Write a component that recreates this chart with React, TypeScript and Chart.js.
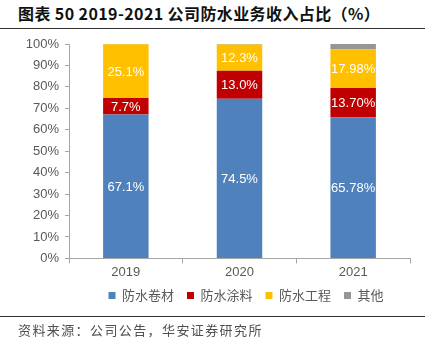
import React, { useEffect, useRef } from "react";
import { Chart, registerables } from "chart.js";

Chart.register(...registerables);

const categories = ["2019", "2020", "2021"];
const seriesNames = ["防水卷材", "防水涂料", "防水工程", "其他"];
const membrane = [67.1, 74.5, 65.78];
const coating = [7.7, 13.0, 13.7];
const engineering = [25.1, 12.3, 17.98];
const others = [0.1, 0.2, 2.54];
const membraneLabels = ["67.1%", "74.5%", "65.78%"];
const coatingLabels = ["7.7%", "13.0%", "13.70%"];
const engineeringLabels = ["25.1%", "12.3%", "17.98%"];
const yTicks = ["0%", "10%", "20%", "30%", "40%", "50%", "60%", "70%", "80%", "90%", "100%"];
const colors = ["#4F81BD", "#C00000", "#FFC000", "#969696"];

const labelSets = [membraneLabels, coatingLabels, engineeringLabels, null];

const segLabels = {
  id: "segLabels",
  afterDatasetsDraw(chart: any) {
    const ctx = chart.ctx;
    ctx.save();
    ctx.fillStyle = "#FFFFFF";
    ctx.font = "13px 'Liberation Sans', Arial, sans-serif";
    ctx.textAlign = "center";
    ctx.textBaseline = "middle";
    chart.data.datasets.forEach((ds: any, i: number) => {
      const labels = labelSets[i];
      if (!labels) return;
      const meta = chart.getDatasetMeta(i);
      meta.data.forEach((bar: any, j: number) => {
        const y = (bar.y + bar.base) / 2;
        ctx.fillText(labels[j], bar.x, y + 1);
      });
    });
    ctx.restore();
  },
};

const legendShift = {
  id: "legendShift",
  afterLayout(chart: any) {
    const lg = chart.legend;
    if (!lg) return;
    lg.left += 41;
    lg.right += 41;
    lg.top -= 5;
    lg.bottom -= 5;
  },
};

export default function App() {
  const ref = useRef<HTMLCanvasElement>(null);
  useEffect(() => {
    document.body.style.margin = "0";
    const chart = new Chart(ref.current!, {
      type: "bar",
      data: {
        labels: categories,
        datasets: [membrane, coating, engineering, others].map((d, i) => ({
          label: seriesNames[i],
          data: d,
          backgroundColor: colors[i],
          borderWidth: 0,
          barPercentage: 0.8,
          categoryPercentage: 0.5,
        })),
      },
      options: {
        animation: false,
        responsive: false,
        maintainAspectRatio: false,
        layout: { padding: { left: 0, right: 15, top: 14, bottom: 0 } },
        plugins: {
          tooltip: { enabled: false },
          legend: {
            position: "bottom",
            labels: {
              usePointStyle: true,
              pointStyle: "rect",
              boxWidth: 7,
              boxHeight: 7,
              padding: 13,
              color: "#595959",
              font: { size: 13, family: "'Noto Sans CJK SC', sans-serif" },
            },
          },
        },
        scales: {
          x: {
            stacked: true,
            grid: {
              display: true,
              drawOnChartArea: false,
              offset: true,
              tickLength: 5,
              color: "#A6A6A6",
            },
            border: { color: "#A6A6A6" },
            ticks: {
              color: "#595959",
              font: { size: 13, family: "'Liberation Sans', Arial, sans-serif" },
              padding: 1,
            },
          },
          y: {
            stacked: true,
            min: 0,
            max: 100,
            afterFit(scale: any) {
              scale.width = 69;
            },
            grid: {
              display: true,
              drawOnChartArea: false,
              tickLength: 4,
              color: "#A6A6A6",
            },
            border: { color: "#A6A6A6" },
            ticks: {
              stepSize: 10,
              color: "#595959",
              padding: 6,
              font: { size: 13, family: "'Liberation Sans', Arial, sans-serif" },
              callback: (v: any) => yTicks[Math.round(Number(v) / 10)],
            },
          },
        },
      },
      plugins: [segLabels, legendShift],
    });
    return () => chart.destroy();
  }, []);

  return (
    <div style={{ position: "fixed", left: 0, top: 0, width: 440, height: 350, background: "#fff" }}>
      <div
        style={{
          position: "absolute",
          left: 18,
          top: 2,
          fontFamily: "'Noto Sans CJK SC', sans-serif",
          fontWeight: 700,
          fontSize: 16,
          letterSpacing: 0.4,
          color: "#111",
          whiteSpace: "nowrap",
          lineHeight: "22px",
        }}
      >
        图表 50 2019-2021 公司防水业务收入占比（%）
      </div>
      <div style={{ position: "absolute", left: 0, top: 28, width: 425, height: 1, background: "#333" }} />
      <canvas
        ref={ref}
        width={425}
        height={287}
        style={{ position: "absolute", left: 0, top: 30, width: 425, height: 287 }}
      />
      <div style={{ position: "absolute", left: 0, top: 316, width: 425, height: 1, background: "#333" }} />
      <div
        style={{
          position: "absolute",
          left: 18,
          top: 321,
          fontFamily: "'Noto Sans CJK SC', sans-serif",
          fontSize: 13,
          letterSpacing: 1.4,
          color: "#505050",
          whiteSpace: "nowrap",
          lineHeight: "18px",
        }}
      >
        资料来源：公司公告，华安证券研究所
      </div>
    </div>
  );
}
